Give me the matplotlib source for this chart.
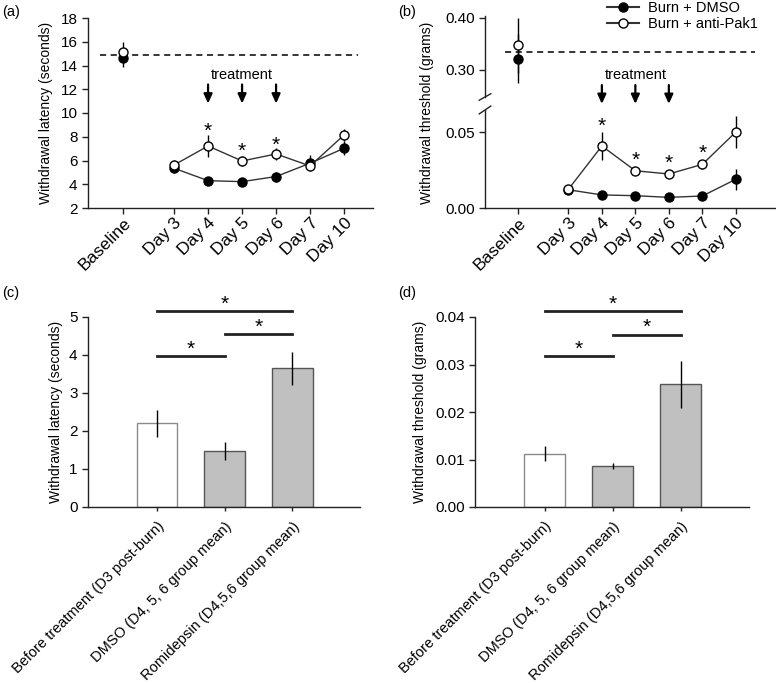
"""
Burn pain figure: withdrawal latency / threshold time course (a, b) and
group means before/after treatment (c, d).
"""
import matplotlib
matplotlib.use("Agg")
import matplotlib.pyplot as plt
import numpy as np

plt.rcParams["font.family"] = ["Liberation Sans", "DejaVu Sans"]
plt.rcParams["axes.linewidth"] = 1.0
plt.rcParams["axes.edgecolor"] = "#222222"

# ---- time-course data (panels a, b)
days = ["Baseline", "Day 3", "Day 4", "Day 5", "Day 6", "Day 7", "Day 10"]

a_dmso = [14.6, 5.35, 4.3, 4.22, 4.65, 5.77, 7.03]
a_dmso_err = [0.7, 0.4, 0.15, 0.15, 0.42, 0.69, 0.6]
a_pak = [15.15, 5.62, 7.22, 5.96, 6.55, 5.54, 8.15]
a_pak_err = [0.85, 0.45, 0.9, 0.4, 0.5, 0.35, 0.5]
a_baseline_ref = 14.9
a_star_idx = [2, 3, 4]
a_star_y = [8.45, 6.75, 7.25]

b_dmso = [0.321, 0.0120, 0.0086, 0.0081, 0.0070, 0.0079, 0.0189]
b_dmso_err = [0.047, 0.001, 0.001, 0.001, 0.001, 0.001, 0.007]
b_pak = [0.347, 0.0123, 0.0408, 0.0245, 0.0224, 0.0287, 0.0500]
b_pak_err = [0.053, 0.001, 0.0092, 0.002, 0.0025, 0.003, 0.0105]
b_baseline_ref = 0.334
b_star_idx = [2, 3, 4, 5]
b_star_y = [0.0540, 0.0317, 0.0291, 0.0363]

treat_idx = [2, 3, 4]

# ---- group means (panels c, d)
groups = ["Before treatment (D3 post-burn)", "DMSO (D4, 5, 6 group mean)",
          "Romidepsin (D4,5,6 group mean)"]
c_mean = [2.2, 1.48, 3.65]
c_err = [0.36, 0.23, 0.43]
c_sig = [(0, 1, 3.97), (1, 2, 4.55), (0, 2, 5.15)]
d_mean = [0.01125, 0.00857, 0.0258]
d_err = [0.0016, 0.0006, 0.0050]
d_sig = [(0, 1, 0.0317), (1, 2, 0.0363), (0, 2, 0.0412)]

# baseline separated from the days by an extra half slot
idx = np.arange(len(days))
xpos = idx + 0.5 * (idx > 0)

fig = plt.figure(figsize=(7.76, 6.83), dpi=100)
W, H = 776, 683


def add_ax(left, top, right, bottom):
    return fig.add_axes([left / W, 1 - bottom / H, (right - left) / W, (bottom - top) / H])


TICK_FS = 11
LAB_FS = 10
MS = 6.5


def style(ax):
    for s in ("top", "right"):
        ax.spines[s].set_visible(False)
    ax.tick_params(direction="out", length=4, width=1, labelsize=TICK_FS, color="#222222")


def plot_series(ax, y, e, filled, zorder):
    fc = "black" if filled else "white"
    ax.plot(xpos[1:], y[1:], "-", color="#333333", lw=1, zorder=zorder)
    ax.errorbar(xpos, y, yerr=e, fmt="o", ms=MS, mfc=fc, mec="black", mew=1,
                ecolor="black", elinewidth=1, capsize=0, zorder=zorder + 1)


def arrows(ax, y_text, y0, y1):
    ax.text(xpos[3], y_text, "treatment", ha="center", va="center", fontsize=10.5)
    for i in treat_idx:
        ax.annotate("", xy=(xpos[i], y1), xytext=(xpos[i], y0), annotation_clip=False,
                    arrowprops=dict(arrowstyle="-|>,head_width=0.25,head_length=0.55",
                                    lw=1.6, color="black", shrinkA=0, shrinkB=0))


def set_days(ax):
    ax.set_xticks(xpos)
    ax.set_xticklabels(days, rotation=45, ha="right", rotation_mode="anchor", fontsize=12.5)
    ax.tick_params(axis="x", pad=1)


# ---- (a)
ax_a = add_ax(88, 18, 373, 208)
style(ax_a)
plot_series(ax_a, a_dmso, a_dmso_err, True, 3)
plot_series(ax_a, a_pak, a_pak_err, False, 5)
ax_a.plot([-0.68, 6.9], [a_baseline_ref] * 2, color="black", lw=1.1, ls=(0, (4, 3)))
ax_a.set_xlim(-1.03, 7.35)
ax_a.set_ylim(2, 18)
ax_a.set_yticks(range(2, 19, 2))
set_days(ax_a)
ax_a.set_ylabel("Withdrawal latency (seconds)", fontsize=LAB_FS)
ax_a.yaxis.set_label_coords(-0.123, 0.5)
arrows(ax_a, 13.2, 12.4, 10.8)
for i, y in zip(a_star_idx, a_star_y):
    ax_a.text(xpos[i], y, "*", ha="center", va="center", fontsize=15)

# ---- (b) broken axis
ax_bt = add_ax(485, 16, 775, 97)
ax_b = add_ax(485, 110, 775, 208)
style(ax_b)
style(ax_bt)
ax_bt.spines["bottom"].set_visible(False)
ax_bt.tick_params(axis="x", bottom=False, labelbottom=False)
for ax in (ax_bt, ax_b):
    plot_series(ax, b_dmso, b_dmso_err, True, 3)
    plot_series(ax, b_pak, b_pak_err, False, 5)
    ax.set_xlim(-0.99, 7.67)
ax_bt.plot([-0.39, 7.07], [b_baseline_ref] * 2, color="black", lw=1.1, ls=(0, (4, 3)))
ax_bt.set_ylim(0.248, 0.4035)
ax_bt.set_yticks([0.30, 0.40])
ax_bt.set_yticklabels(["0.30", "0.40"])
ax_b.set_ylim(0, 0.0645)
ax_b.set_yticks([0.0, 0.05])
ax_b.set_yticklabels(["0.00", "0.05"])
set_days(ax_b)
ax_b.set_ylabel("Withdrawal threshold (grams)", fontsize=LAB_FS)
ax_b.yaxis.set_label_coords(-0.176, 0.97)
arrows(ax_b, 0.0875, 0.0809, 0.0685)
for i, y in zip(b_star_idx, b_star_y):
    ax_b.text(xpos[i], y, "*", ha="center", va="center", fontsize=15)
# break marks on the left spine
for ax, yy in ((ax_bt, 0.0), (ax_b, 1.0)):
    ax.plot([-0.02, 0.02], [yy - 0.04, yy + 0.04], transform=ax.transAxes,
            color="#222222", lw=1, clip_on=False)

ax_bt.plot([], [], "-o", color="#333333", mfc="black", mec="black", ms=MS, label="Burn + DMSO")
ax_bt.plot([], [], "-o", color="#333333", mfc="white", mec="black", ms=MS, label="Burn + anti-Pak1")
ax_bt.legend(loc="upper left", bbox_to_anchor=(607 / W, 0.999), bbox_transform=fig.transFigure,
             frameon=False, fontsize=10.5, handlelength=2.2, handletextpad=0.6,
             labelspacing=0.15, borderpad=0, borderaxespad=0)


# ---- (c), (d)
def bar_panel(ax, mean, err, sig, ymax, step, fmt, ylabel, label_x):
    style(ax)
    gx = np.arange(len(groups))
    ax.bar(gx, mean, width=0.6, color=["white", "#c0c0c0", "#c0c0c0"],
           edgecolor=["#8a8a8a", "#555555", "#555555"], linewidth=1, zorder=2)
    ax.errorbar(gx, mean, yerr=err, fmt="none", ecolor="black", elinewidth=1, capsize=0, zorder=3)
    for i, j, y in sig:
        ax.plot([gx[i], gx[j]], [y, y], color="#222222", lw=2, clip_on=False)
        ax.annotate("*", xy=((gx[i] + gx[j]) / 2, y), xytext=(0, 5),
                    textcoords="offset points", ha="center", va="center",
                    fontsize=15, annotation_clip=False)
    ax.set_xlim(-1.02, 3.0)
    ax.set_ylim(0, ymax)
    ticks = np.arange(0, ymax + step / 2, step)
    ax.set_yticks(ticks)
    ax.set_yticklabels([fmt % t for t in ticks])
    ax.set_xticks(gx)
    ax.set_xticklabels(groups, rotation=45, ha="right", rotation_mode="anchor", fontsize=10.5)
    ax.tick_params(axis="x", length=3, pad=6)
    ax.set_ylabel(ylabel, fontsize=LAB_FS)
    ax.yaxis.set_label_coords(label_x, 0.5)


ax_c = add_ax(88, 317, 360, 507)
bar_panel(ax_c, c_mean, c_err, c_sig, 5, 1, "%d", "Withdrawal latency (seconds)", -0.092)
ax_d = add_ax(475, 317, 749, 507)
bar_panel(ax_d, d_mean, d_err, d_sig, 0.04, 0.01, "%.2f", "Withdrawal threshold (grams)", -0.175)

for lab, x, y in (("(a)", 2, 12), ("(b)", 398, 12), ("(c)", 2, 293), ("(d)", 398, 293)):
    fig.text(x / W, 1 - y / H, lab, fontsize=10.5, va="center", ha="left")

fig.savefig("out.png", dpi=100)
plt.close(fig)
